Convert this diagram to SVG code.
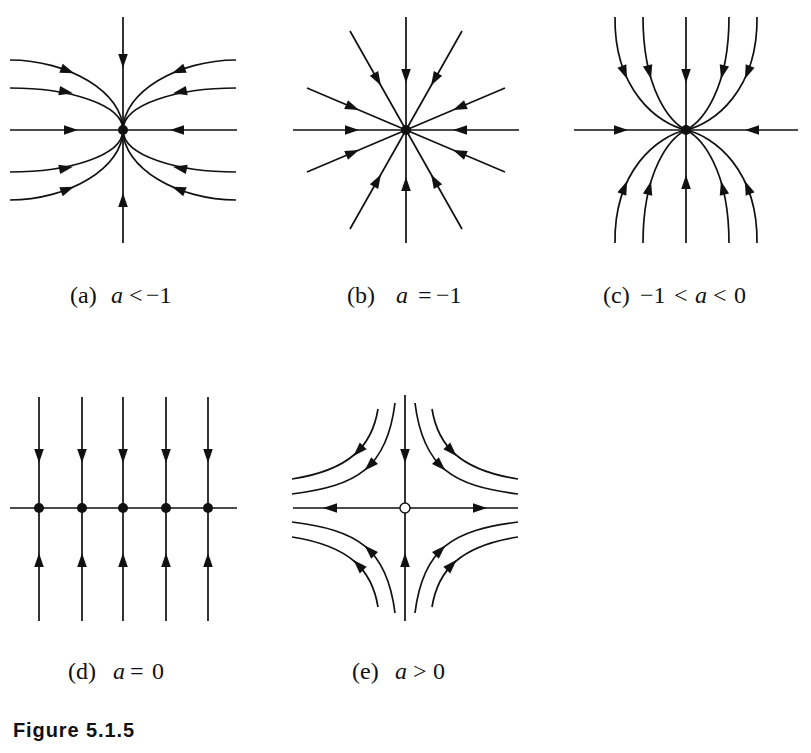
<svg xmlns="http://www.w3.org/2000/svg" xmlns:xlink="http://www.w3.org/1999/xlink" width="811" height="753" viewBox="0 0 811 753">
<style>
.ln{fill:none;stroke:#111;stroke-width:1.7}
.ah{fill:#111}
.dot{fill:#111}
.open{fill:#fff;stroke:#111;stroke-width:1.4}
.lbl{font-family:"Liberation Serif","Times New Roman",serif;font-size:24px;fill:#111}
.it{font-style:italic}
.fig{font-family:"Liberation Sans",Arial,sans-serif;font-weight:bold;font-size:20px;fill:#111;letter-spacing:0.9px}
</style>
<defs>
<path id="ah" d="M0,0 L-14,-4.8 L-14,4.8 Z"/>
<path id="aOut" d="M-113,-70 C-55,-70 0,-38 0,0"/>
<path id="aIn" d="M-113,-42 C-55,-42 0,-26 0,0"/>
<path id="cOut" d="M-71,-113 C-72,-40 -28,-6 0,0"/>
<path id="cIn" d="M-43,-113 C-43,-40 -16,-8 0,0"/>
<path id="eIn" d="M-10,105 C-18,40 -48,22 -113,14"/>
<path id="eOut" d="M-27,99 C-33,62 -55,38 -113,29"/>
</defs>
<rect width="811" height="753" fill="#fff"/>

<!-- (a) a < -1 -->
<g id="panel-a">
<g id="a-connectors" class="ln">
<path d="M123,17 V243 M10,130 H237"/>
<use xlink:href="#aOut" transform="translate(123,130)"/>
<use xlink:href="#aOut" transform="translate(123,130) scale(-1,1)"/>
<use xlink:href="#aOut" transform="translate(123,130) scale(1,-1)"/>
<use xlink:href="#aOut" transform="translate(123,130) scale(-1,-1)"/>
<use xlink:href="#aIn" transform="translate(123,130)"/>
<use xlink:href="#aIn" transform="translate(123,130) scale(-1,1)"/>
<use xlink:href="#aIn" transform="translate(123,130) scale(1,-1)"/>
<use xlink:href="#aIn" transform="translate(123,130) scale(-1,-1)"/>
</g>
<g id="a-arrows" class="ah">
<use xlink:href="#ah" transform="translate(123,68) rotate(90)"/>
<use xlink:href="#ah" transform="translate(123,193) rotate(-90)"/>
<use xlink:href="#ah" transform="translate(78,130)"/>
<use xlink:href="#ah" transform="translate(170,130) rotate(180)"/>
<use xlink:href="#ah" transform="translate(74.1,73.2) rotate(21)"/>
<use xlink:href="#ah" transform="translate(171.9,73.2) rotate(159)"/>
<use xlink:href="#ah" transform="translate(74.1,186.8) rotate(-21)"/>
<use xlink:href="#ah" transform="translate(171.9,186.8) rotate(-159)"/>
<use xlink:href="#ah" transform="translate(73,93.3) rotate(11)"/>
<use xlink:href="#ah" transform="translate(173,93.3) rotate(169)"/>
<use xlink:href="#ah" transform="translate(73,166.7) rotate(-11)"/>
<use xlink:href="#ah" transform="translate(173,166.7) rotate(-169)"/>
</g>
<g id="a-fixed-point"><circle class="dot" cx="123" cy="130" r="5"/></g>
<text class="lbl" y="303"><tspan x="70">(a)</tspan><tspan x="111" class="it">a</tspan><tspan x="129">&lt;</tspan><tspan x="146">−1</tspan></text>
</g>

<!-- (b) a = -1 -->
<g id="panel-b">
<g id="b-connectors" class="ln">
<path d="M406,17 V243 M293,130 H519 M350,31 L462,229 M462,31 L350,229 M307,88 L505,172 M505,88 L307,172"/>
</g>
<g id="b-arrows" class="ah">
<use xlink:href="#ah" transform="translate(406,83) rotate(90)"/>
<use xlink:href="#ah" transform="translate(406,177) rotate(-90)"/>
<use xlink:href="#ah" transform="translate(359,130)"/>
<use xlink:href="#ah" transform="translate(453,130) rotate(180)"/>
<use xlink:href="#ah" transform="translate(380.9,85.6) rotate(60.5)"/>
<use xlink:href="#ah" transform="translate(431.1,85.6) rotate(119.5)"/>
<use xlink:href="#ah" transform="translate(380.9,174.4) rotate(-60.5)"/>
<use xlink:href="#ah" transform="translate(431.1,174.4) rotate(-119.5)"/>
<use xlink:href="#ah" transform="translate(359,110.1) rotate(23)"/>
<use xlink:href="#ah" transform="translate(453,110.1) rotate(157)"/>
<use xlink:href="#ah" transform="translate(359,149.9) rotate(-23)"/>
<use xlink:href="#ah" transform="translate(453,149.9) rotate(-157)"/>
</g>
<g id="b-fixed-point"><circle class="dot" cx="406" cy="130" r="5"/></g>
<text class="lbl" y="303"><tspan x="347">(b)</tspan><tspan x="396" class="it">a</tspan><tspan x="418">=</tspan><tspan x="436">−1</tspan></text>
</g>

<!-- (c) -1 < a < 0 -->
<g id="panel-c">
<g id="c-connectors" class="ln">
<path d="M686,17 V243 M574,130 H798"/>
<use xlink:href="#cOut" transform="translate(686,130)"/>
<use xlink:href="#cOut" transform="translate(686,130) scale(-1,1)"/>
<use xlink:href="#cOut" transform="translate(686,130) scale(1,-1)"/>
<use xlink:href="#cOut" transform="translate(686,130) scale(-1,-1)"/>
<use xlink:href="#cIn" transform="translate(686,130)"/>
<use xlink:href="#cIn" transform="translate(686,130) scale(-1,1)"/>
<use xlink:href="#cIn" transform="translate(686,130) scale(1,-1)"/>
<use xlink:href="#cIn" transform="translate(686,130) scale(-1,-1)"/>
</g>
<g id="c-arrows" class="ah">
<use xlink:href="#ah" transform="translate(686,83) rotate(90)"/>
<use xlink:href="#ah" transform="translate(686,175) rotate(-90)"/>
<use xlink:href="#ah" transform="translate(628,130)"/>
<use xlink:href="#ah" transform="translate(745,130) rotate(180)"/>
<use xlink:href="#ah" transform="translate(627.1,79) rotate(68)"/>
<use xlink:href="#ah" transform="translate(651,78.9) rotate(76)"/>
<use xlink:href="#ah" transform="translate(744.9,79) rotate(112)"/>
<use xlink:href="#ah" transform="translate(721,78.9) rotate(104)"/>
<use xlink:href="#ah" transform="translate(627.1,181) rotate(-68)"/>
<use xlink:href="#ah" transform="translate(651,181.1) rotate(-76)"/>
<use xlink:href="#ah" transform="translate(744.9,181) rotate(-112)"/>
<use xlink:href="#ah" transform="translate(721,181.1) rotate(-104)"/>
</g>
<g id="c-fixed-point"><circle class="dot" cx="686" cy="130" r="5"/></g>
<text class="lbl" y="303"><tspan x="603">(c)</tspan><tspan x="640">−1</tspan><tspan x="674">&lt;</tspan><tspan x="695" class="it">a</tspan><tspan x="713">&lt;</tspan><tspan x="734">0</tspan></text>
</g>

<!-- (d) a = 0 -->
<g id="panel-d">
<g id="d-connectors" class="ln">
<path d="M10,508 H237 M39,397 V621 M82,397 V621 M123,397 V621 M166,397 V621 M208,397 V621"/>
</g>
<g id="d-arrows" class="ah">
<use xlink:href="#ah" transform="translate(39,463) rotate(90)"/>
<use xlink:href="#ah" transform="translate(82,463) rotate(90)"/>
<use xlink:href="#ah" transform="translate(123,463) rotate(90)"/>
<use xlink:href="#ah" transform="translate(166,463) rotate(90)"/>
<use xlink:href="#ah" transform="translate(208,463) rotate(90)"/>
<use xlink:href="#ah" transform="translate(39,553) rotate(-90)"/>
<use xlink:href="#ah" transform="translate(82,553) rotate(-90)"/>
<use xlink:href="#ah" transform="translate(123,553) rotate(-90)"/>
<use xlink:href="#ah" transform="translate(166,553) rotate(-90)"/>
<use xlink:href="#ah" transform="translate(208,553) rotate(-90)"/>
</g>
<g id="d-fixed-points" class="dot">
<circle cx="39" cy="508" r="5"/><circle cx="82" cy="508" r="5"/><circle cx="123" cy="508" r="5"/><circle cx="166" cy="508" r="5"/><circle cx="208" cy="508" r="5"/>
</g>
<text class="lbl" y="679"><tspan x="68">(d)</tspan><tspan x="113" class="it">a</tspan><tspan x="130">=</tspan><tspan x="152">0</tspan></text>
</g>

<!-- (e) a > 0 -->
<g id="panel-e">
<g id="e-connectors" class="ln">
<path d="M405,395 V621 M293,508 H518"/>
<use xlink:href="#eIn" transform="translate(405,508)"/>
<use xlink:href="#eIn" transform="translate(405,508) scale(-1,1)"/>
<use xlink:href="#eIn" transform="translate(405,508) scale(1,-1)"/>
<use xlink:href="#eIn" transform="translate(405,508) scale(-1,-1)"/>
<use xlink:href="#eOut" transform="translate(405,508)"/>
<use xlink:href="#eOut" transform="translate(405,508) scale(-1,1)"/>
<use xlink:href="#eOut" transform="translate(405,508) scale(1,-1)"/>
<use xlink:href="#eOut" transform="translate(405,508) scale(-1,-1)"/>
</g>
<g id="e-arrows" class="ah">
<use xlink:href="#ah" transform="translate(405,463) rotate(90)"/>
<use xlink:href="#ah" transform="translate(405,553) rotate(-90)"/>
<use xlink:href="#ah" transform="translate(323,508) rotate(180)"/>
<use xlink:href="#ah" transform="translate(487,508)"/>
<use xlink:href="#ah" transform="translate(364.7,545.5) rotate(-135)"/>
<use xlink:href="#ah" transform="translate(353.5,560.1) rotate(-134)"/>
<use xlink:href="#ah" transform="translate(364.7,470.5) rotate(135)"/>
<use xlink:href="#ah" transform="translate(353.5,455.9) rotate(134)"/>
<use xlink:href="#ah" transform="translate(445.3,470.5) rotate(45)"/>
<use xlink:href="#ah" transform="translate(456.5,455.9) rotate(46)"/>
<use xlink:href="#ah" transform="translate(445.3,545.5) rotate(-45)"/>
<use xlink:href="#ah" transform="translate(456.5,560.1) rotate(-46)"/>
</g>
<g id="e-fixed-point"><circle class="open" cx="405" cy="508" r="5"/></g>
<text class="lbl" y="679"><tspan x="352">(e)</tspan><tspan x="395" class="it">a</tspan><tspan x="413">&gt;</tspan><tspan x="433">0</tspan></text>
</g>

<text class="fig" x="13" y="737">Figure 5.1.5</text>
</svg>
